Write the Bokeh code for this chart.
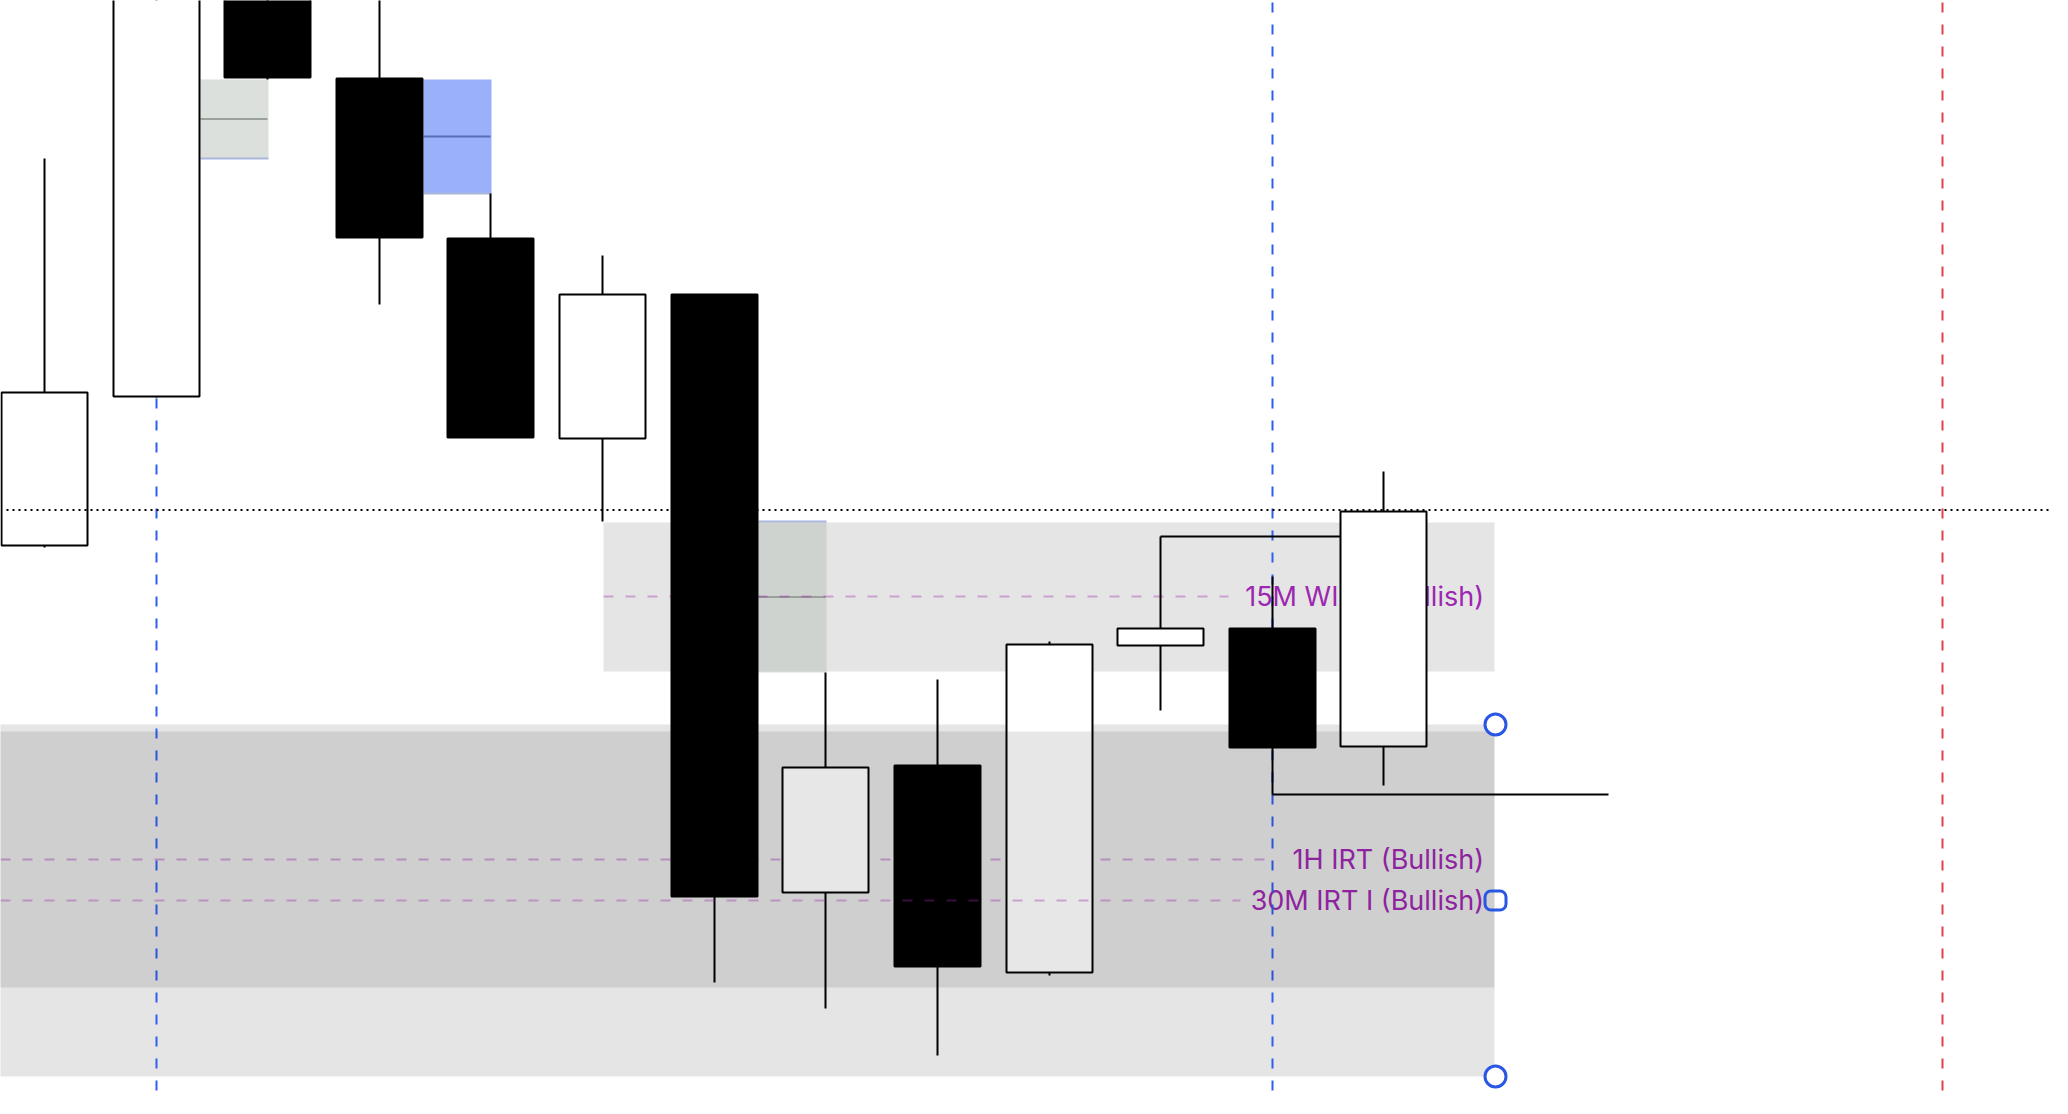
from bokeh.plotting import figure
from bokeh.models import Range1d
from bokeh.embed import file_html
from bokeh.resources import INLINE
from bokeh.core.properties import value

# ---------------- data ----------------
# candle centres (chart x units) and OHLC prices (chart price units)
candle_x = [44, 156, 267, 379, 490, 602, 714, 825, 937, 1049, 1160, 1272, 1383]
opens    = [569, 718, 1180, 1036, 876, 676, 820, 222, 349, 142, 469, 486, 368]
closes   = [722, 1180, 1037, 877, 677, 820, 218, 347, 148, 470, 486, 367, 603]
highs    = [956, 1200, 1200, 1150, 921, 859, 820, 442, 435, 473, 578, 538, 643]
lows     = [567, 717, 1035, 810, 677, 593, 132, 106, 59, 139, 404, 320, 329]
body_half = 43

# fair value gap boxes
fvg_left   = [200, 423, 758]
fvg_right  = [268, 491, 826]
fvg_top    = [1035, 1035, 593]
fvg_bottom = [956, 921, 442]
fvg_fill   = ["#b9c1b9", "#9ab0f8", "#b9c1b9"]
fvg_alpha  = [0.5, 1.0, 0.5]
fvg_mid_color = ["#9aa09a", "#5a6fb8", "#9aa09a"]
fvg_edge_y = [956, 921, 593]

# zones (left, right, top, bottom)
zone15_l, zone15_r, zone15_t, zone15_b = 603, 1494, 592, 443
zoneA_l, zoneA_r, zoneA_t, zoneA_b = -20, 1494, 390, 38
zoneB_l, zoneB_r, zoneB_t, zoneB_b = -20, 1494, 383, 127

# labelled levels
labels   = ["15M WIRT (Bullish)", "1H IRT (Bullish)", "30M IRT I (Bullish)"]
label_y  = [518, 255, 214]
line_x0  = [603, 0, 0]
line_x1  = [1228, 1272, 1240]
label_x  = 1483.5

# other drawings
blue_vx = [156, 1272]
red_vx = 1942
dotted_y = 604.4
high_line = (1160, 1383, 578)
low_line = (1272, 1608, 320)
handle_x = 1495
handle_circle_y = [390, 38]
handle_square_y = 214

# ---------------- figure ----------------
p = figure(width=2052, height=1098, x_range=Range1d(0, 2052), y_range=Range1d(16, 1114),
           output_backend="svg", toolbar_location=None, min_border=0,
           x_axis_location=None, y_axis_location=None)
p.grid.visible = False
p.outline_line_color = None
p.background_fill_color = "white"
p.border_fill_color = "white"

# zones beneath candles
p.quad(left=[zone15_l], right=[zone15_r], top=[zone15_t], bottom=[zone15_b],
       fill_color="black", fill_alpha=0.1, line_color=None)
p.quad(left=[zoneA_l], right=[zoneA_r], top=[zoneA_t], bottom=[zoneA_b],
       fill_color="black", fill_alpha=0.1, line_color=None)

# FVG boxes
p.quad(left=fvg_left, right=fvg_right, top=fvg_top, bottom=fvg_bottom,
       fill_color=fvg_fill, fill_alpha=fvg_alpha, line_color=None)
fvg_mid = [(t + b) / 2 for t, b in zip(fvg_top, fvg_bottom)]
p.segment(x0=fvg_left, x1=[r - 1 for r in fvg_right], y0=fvg_mid, y1=fvg_mid,
          line_color=fvg_mid_color, line_width=2)
p.segment(x0=fvg_left, x1=fvg_right, y0=fvg_edge_y, y1=fvg_edge_y,
          line_color="#aab6dc", line_width=2)

# level lines under candles (15M, 1H)
p.segment(x0=line_x0[:2], x1=line_x1[:2], y0=label_y[:2], y1=label_y[:2],
          line_color="#9c27b0", line_alpha=0.36, line_width=2, line_dash="10 12")

# labels
p.text(x=[label_x] * 3, y=label_y, text=labels, text_align="right", text_baseline="middle",
       text_color="#9c27b0", text_font=value("Inter"), text_font_size="27px")

# vertical dashed lines
for vx in blue_vx:
    p.segment(x0=[vx], x1=[vx], y0=[-20], y1=[1200], line_color="#2f5eee",
              line_width=2, line_dash="10 12")
p.segment(x0=[red_vx], x1=[red_vx], y0=[-20], y1=[1200], line_color="#e2404f",
          line_width=2, line_dash="10 12")

# horizontal black lines
p.segment(x0=[high_line[0], low_line[0]], x1=[high_line[1], low_line[1]],
          y0=[high_line[2], low_line[2]], y1=[high_line[2], low_line[2]],
          line_color="black", line_width=2)

# candles
p.segment(x0=candle_x, x1=candle_x, y0=lows, y1=highs, line_color="black", line_width=2)
body_top = [max(o, c) for o, c in zip(opens, closes)]
body_bot = [min(o, c) for o, c in zip(opens, closes)]
body_col = ["white" if c > o else "black" for o, c in zip(opens, closes)]
p.quad(left=[x - body_half for x in candle_x], right=[x + body_half for x in candle_x],
       top=body_top, bottom=body_bot, fill_color=body_col, line_color="black", line_width=2)

# darker zone above candles
p.quad(left=[zoneB_l], right=[zoneB_r], top=[zoneB_t], bottom=[zoneB_b],
       fill_color="black", fill_alpha=0.095, line_color=None)

# 30M line above candles
p.segment(x0=line_x0[2:], x1=line_x1[2:], y0=label_y[2:], y1=label_y[2:],
          line_color="#9c27b0", line_alpha=0.36, line_width=2, line_dash="10 12")

# dotted price line
p.segment(x0=[6], x1=[2100], y0=[dotted_y], y1=[dotted_y], line_color="black",
          line_width=2, line_dash="2 4")

# handles
p.scatter(x=[handle_x] * 2, y=handle_circle_y, marker="circle", size=21,
          fill_color="white", line_color="#2a56e4", line_width=3)
p.quad(left=[handle_x - 10.5], right=[handle_x + 10.5], top=[handle_square_y + 9.5],
       bottom=[handle_square_y - 9.5], fill_color=None, line_color="#2a56e4",
       line_width=3, border_radius=6)

open("out.html", "w").write(file_html(p, INLINE))
